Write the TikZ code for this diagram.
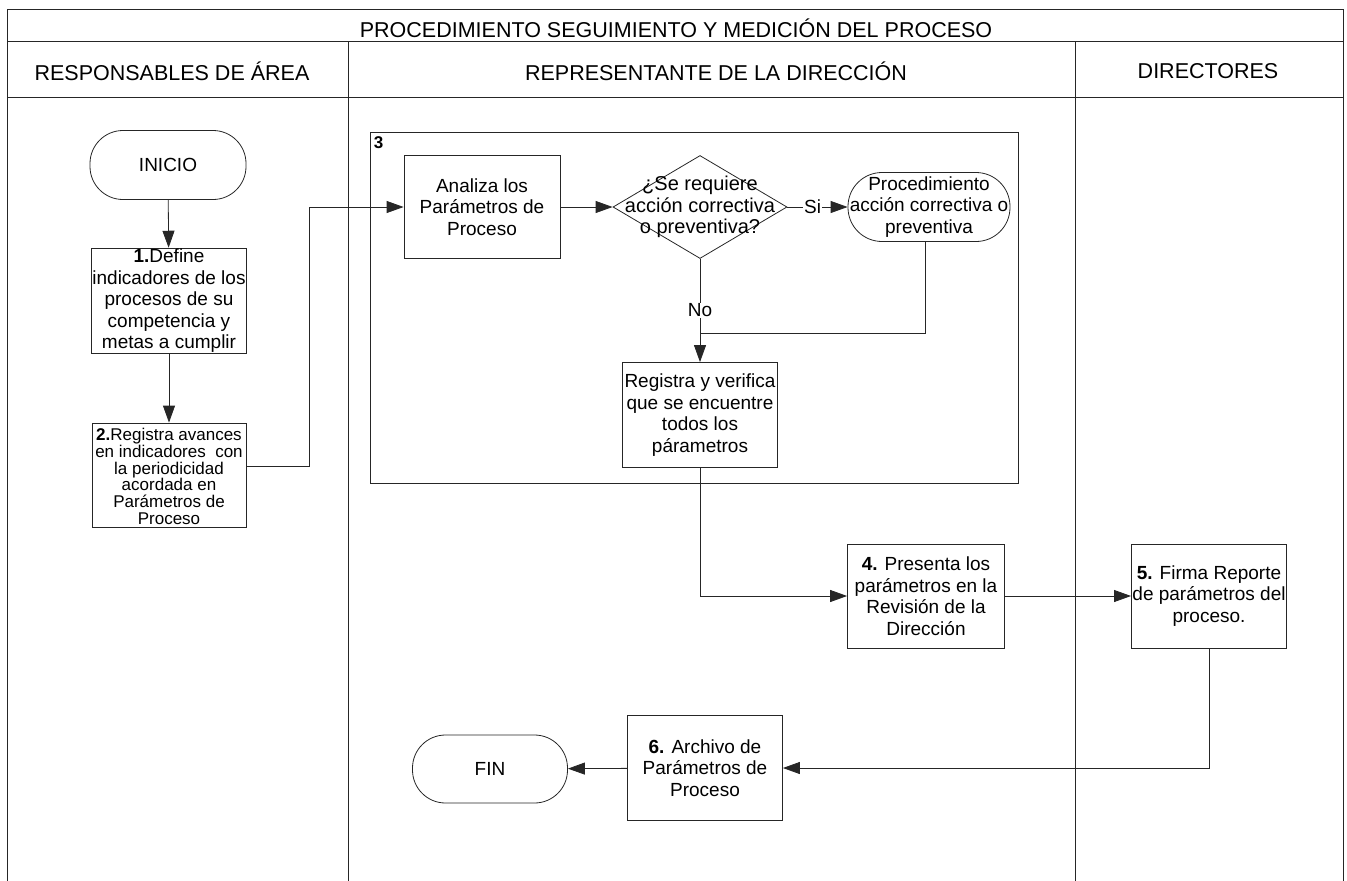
\documentclass[tikz,border=0pt]{standalone}
\usepackage{fontspec}
\setmainfont{Liberation Sans}
\usetikzlibrary{arrows.meta,shapes.geometric}
\begin{document}
\begin{tikzpicture}[x=1pt,y=-1pt,
  ln/.style={draw=black!85, line width=0.8pt},
  arr/.style={ln, -{Triangle[length=17pt,width=12pt]}},
  box/.style={draw=black!85, line width=0.8pt, rectangle, align=center, inner sep=1pt,
    font=\fontsize{19}{21.5}\selectfont},
  term/.style={box, rounded corners=33pt},
  hdr/.style={font=\fontsize{21.5}{24}\selectfont, inner sep=0pt},
  lbl/.style={fill=white, inner sep=1pt, font=\fontsize{19}{21.5}\selectfont}
]
\useasboundingbox (0,0) rectangle (1347,881);
% table frame
\draw[ln] (7,9) -- (1343,9);
\draw[ln] (7,9) -- (7,881);
\draw[ln] (1343,9) -- (1343,881);
\draw[ln] (7,41) -- (1343,41);
\draw[ln] (7,97) -- (1343,97);
\draw[ln] (348,41) -- (348,881);
\draw[ln] (1075,41) -- (1075,881);
\node[hdr] (title) at (676,28) {PROCEDIMIENTO SEGUIMIENTO Y MEDICIÓN DEL PROCESO};
\node[hdr] (h1) at (172,71) {RESPONSABLES DE ÁREA};
\node[hdr] (h2) at (716,71) {REPRESENTANTE DE LA DIRECCIÓN};
\node[hdr] (h3) at (1208,71) {DIRECTORES};

% group 3
\node[draw=black!85, line width=0.8pt, minimum width=648pt, minimum height=351pt, inner sep=0pt] (grp) at (694,307.5) {};
\node[anchor=north west, font=\fontsize{17}{20}\selectfont\bfseries, inner sep=0pt] (g3) at ([xshift=4pt,yshift=-5pt]grp.north west) {3};

% nodes
\node[term, minimum width=156pt, minimum height=69pt] (inicio) at (168,165) {INICIO};
\node[box, minimum width=154pt, minimum height=104pt] (b1) at (169,301)
  {\textbf{1.}Define\\indicadores de los\\procesos de su\\competencia y\\metas a cumplir};
\node[box, minimum width=154pt, minimum height=104pt, inner sep=0pt,
  font=\fontsize{17}{16.8}\selectfont] (b2) at (169,475)
  {};
\node[align=center, inner sep=0pt, font=\fontsize{17}{16.8}\selectfont] (b2t) at ([yshift=-1.5pt]b2.center)
  {\textbf{2.}Registra avances\\en indicadores\ \ con\\la periodicidad\\acordada en\\Parámetros de\\Proceso};
\node[box, minimum width=156pt, minimum height=103pt] (ana) at (482,207)
  {Analiza los\\Parámetros de\\Proceso};
\node[diamond, draw=black!85, line width=0.8pt, minimum width=174pt, minimum height=103pt, inner sep=0pt] (dia) at (700,207) {};
\node[align=center, font=\fontsize{20}{21.5}\selectfont, inner sep=0pt] (diat) at (dia.center)
  {¿Se requiere\\acción correctiva\\o preventiva?};
\node[term, rounded corners=34pt, minimum width=162pt, minimum height=69pt, inner sep=0pt] (proc) at (929,207)
  {Procedimiento\\acción correctiva o\\preventiva};
\node[box, minimum width=155pt, minimum height=105pt] (reg) at (700,415)
  {Registra y verifica\\que se encuentre\\todos los\\párametros};
\node[box, minimum width=157pt, minimum height=104pt] (b4) at (926,596)
  {\textbf{4.} Presenta los\\parámetros en la\\Revisión de la\\Dirección};
\node[box, minimum width=155pt, minimum height=104pt] (b5) at (1209,596)
  {\textbf{5.} Firma Reporte\\de parámetros del\\proceso.};
\node[box, minimum width=155pt, minimum height=105pt] (b6) at (705,768)
  {\textbf{6.} Archivo de\\Parámetros de\\Proceso};
\node[term, minimum width=155pt, minimum height=68pt] (fin) at (490,769) {FIN};

% connectors
\draw[arr] (inicio) -- (b1);
\draw[arr] (b1) -- (b2);
\draw[arr] ([yshift=9pt]b2.east) -- ++(63,0) |- (ana.west);
\draw[arr] (ana) -- (dia);
\draw[arr] (dia.east) -- node[lbl, pos=0.42] (si) {Si} (proc.west);
\coordinate (merge) at (dia.south |- 0,333);
\draw[arr] (dia.south) -- node[lbl, pos=0.5] (no) {No} (reg.north);
\draw[ln] ([xshift=-4pt]proc.south) |- (merge);
\draw[arr] (reg.south) |- (b4.west);
\draw[arr] (b4) -- (b5);
\draw[arr] (b5.south) |- (b6.east);
\draw[arr] (b6) -- (fin);
\end{tikzpicture}
\end{document}
